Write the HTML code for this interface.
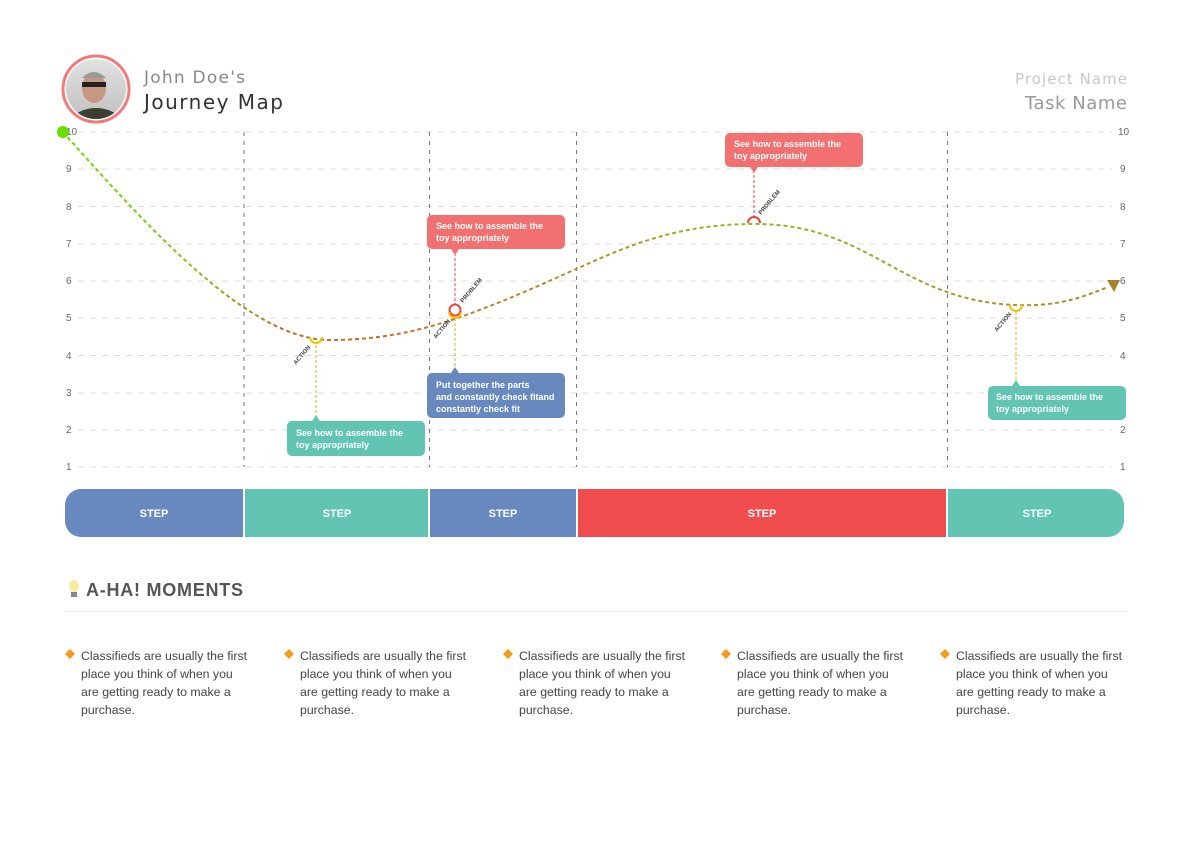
<!DOCTYPE html>
<html><head><meta charset="utf-8"><style>
html,body{margin:0;padding:0;background:#fff;}
svg{display:block;font-family:"Liberation Sans",sans-serif;}
</style></head><body>
<svg width="1191" height="842" viewBox="0 0 1191 842" xmlns="http://www.w3.org/2000/svg">
<defs>
<linearGradient id="g" gradientUnits="userSpaceOnUse" x1="63" y1="0" x2="1115" y2="0">
<stop offset="0" stop-color="#66dd00"/>
<stop offset="0.12" stop-color="#8cc01a"/>
<stop offset="0.22" stop-color="#c8682a"/>
<stop offset="0.38" stop-color="#c47a2a"/>
<stop offset="0.65" stop-color="#9cb52a"/>
<stop offset="1" stop-color="#b0882a"/>
</linearGradient>
<clipPath id="av"><circle cx="96" cy="89" r="30"/></clipPath>
<linearGradient id="bg" x1="0" y1="0" x2="0" y2="1"><stop offset="0" stop-color="#e4e4e4"/><stop offset="1" stop-color="#bdbdbd"/></linearGradient>
</defs>
<!-- header -->
<circle cx="96" cy="89" r="33" fill="#fff" stroke="#f47a7a" stroke-width="3"/>
<g clip-path="url(#av)">
<rect x="60" y="55" width="72" height="70" fill="url(#bg)"/>
<ellipse cx="96" cy="122" rx="24" ry="14" fill="#3a3f30"/>
<ellipse cx="94" cy="88" rx="12" ry="15" fill="#c99880"/>
<rect x="82" y="82" width="24" height="5" fill="#222"/>
<path d="M82 78 Q94 66 106 78" fill="#9a9a9a"/>
</g>
<text x="144" y="83" font-size="17" fill="#888" font-family="DejaVu Sans, sans-serif" textLength="101">John Doe's</text>
<text x="144" y="109" font-size="20" fill="#333" font-family="DejaVu Sans, sans-serif" textLength="139">Journey Map</text>
<text x="1127" y="84" font-size="15" fill="#c8c8c8" text-anchor="end" font-family="DejaVu Sans, sans-serif" textLength="112">Project Name</text>
<text x="1127" y="109" font-size="18" fill="#999" text-anchor="end" font-family="DejaVu Sans, sans-serif" textLength="102">Task Name</text>
<!-- grid -->
<g stroke="#dcdcdc" stroke-dasharray="6,6" stroke-width="1">
<line x1="78" y1="132" x2="1112" y2="132"/><line x1="78" y1="169" x2="1112" y2="169"/>
<line x1="78" y1="206.5" x2="1112" y2="206.5"/><line x1="78" y1="244" x2="1112" y2="244"/>
<line x1="78" y1="281" x2="1112" y2="281"/><line x1="78" y1="318" x2="1112" y2="318"/>
<line x1="78" y1="355.5" x2="1112" y2="355.5"/><line x1="78" y1="393" x2="1112" y2="393"/>
<line x1="78" y1="430" x2="1112" y2="430"/><line x1="78" y1="467" x2="1112" y2="467"/>
</g>
<g font-size="10" fill="#666">
<text x="66" y="135">10</text><text x="66" y="172">9</text><text x="66" y="210">8</text><text x="66" y="247">7</text><text x="66" y="284">6</text><text x="66" y="321">5</text><text x="66" y="359">4</text><text x="66" y="396">3</text><text x="66" y="433">2</text><text x="66" y="470">1</text>
<text x="1118" y="135">10</text><text x="1120" y="172">9</text><text x="1120" y="210">8</text><text x="1120" y="247">7</text><text x="1120" y="284">6</text><text x="1120" y="321">5</text><text x="1120" y="359">4</text><text x="1120" y="396">3</text><text x="1120" y="433">2</text><text x="1120" y="470">1</text>
</g>
<g stroke="#777" stroke-dasharray="4,5" stroke-width="1">
<line x1="244" y1="132" x2="244" y2="467"/><line x1="429.5" y1="132" x2="429.5" y2="467"/>
<line x1="576.5" y1="132" x2="576.5" y2="467"/><line x1="947.5" y1="132" x2="947.5" y2="467"/>
</g>
<!-- connector lines -->
<line x1="316" y1="345" x2="316" y2="416" stroke="#d4b020" stroke-dasharray="3,2"/>
<line x1="455" y1="253" x2="455" y2="305" stroke="#ee4444" stroke-dasharray="3,2"/>
<line x1="455" y1="318" x2="455" y2="368" stroke="#d4b020" stroke-dasharray="3,2"/>
<line x1="754" y1="170" x2="754" y2="218" stroke="#ee4444" stroke-dasharray="3,2"/>
<line x1="1016" y1="312" x2="1016" y2="381" stroke="#e0b800" stroke-dasharray="3,2"/>
<!-- curve -->
<path d="M63,132 C150,230 250,340 330,340 C400,340 450,322 500,302 C600,262 650,224 755,224 C870,224 900,300 1015,305 C1060,307 1085,296 1108,287" fill="none" stroke="url(#g)" stroke-width="2" stroke-dasharray="4,3"/>
<polygon points="1107,280 1120,280 1114,292" fill="#a8822a"/>
<circle cx="63" cy="132" r="6" fill="#66e000"/>
<!-- markers -->
<path d="M310,337 A6,6 0 0 0 322,337" fill="none" stroke="#e8c800" stroke-width="2"/>
<circle cx="455" cy="310" r="5.5" fill="none" stroke="#ee4444" stroke-width="2"/>
<path d="M449,312 A6,6 0 0 0 461,312" fill="none" stroke="#e8c800" stroke-width="2"/>
<path d="M748,223 A6,6 0 0 1 760,223" fill="none" stroke="#ee4444" stroke-width="2"/>
<path d="M1010,305 A6,6 0 0 0 1022,305" fill="none" stroke="#e8c800" stroke-width="2"/>
<g font-size="6" font-weight="bold" fill="#444">
<text transform="translate(296,365) rotate(-50)">ACTION</text>
<text transform="translate(436,339) rotate(-50)">ACTION</text>
<text transform="translate(463,303) rotate(-50)">PROBLEM</text>
<text transform="translate(761,215) rotate(-50)">PROBLEM</text>
<text transform="translate(997,332) rotate(-50)">ACTION</text>
</g>
<!-- callouts -->
<g font-size="9" font-weight="bold" fill="#fff">
<rect x="287" y="421" width="138" height="35" rx="5" fill="#62c5b3"/><polygon points="312,421 320,421 316,415" fill="#62c5b3"/>
<text x="296" y="436">See how to assemble the</text><text x="296" y="448">toy appropriately</text>
<rect x="427" y="215" width="138" height="34" rx="5" fill="#f37070"/><polygon points="451,249 459,249 455,255" fill="#f37070"/>
<text x="436" y="229">See how to assemble the</text><text x="436" y="241">toy appropriately</text>
<rect x="427" y="373" width="138" height="45" rx="5" fill="#6889bf"/><polygon points="451,373 459,373 455,367" fill="#6889bf"/>
<text x="436" y="388">Put together the parts</text><text x="436" y="400">and constantly check fitand</text><text x="436" y="412">constantly check fit</text>
<rect x="725" y="133" width="138" height="34" rx="5" fill="#f37070"/><polygon points="750,167 758,167 754,173" fill="#f37070"/>
<text x="734" y="147">See how to assemble the</text><text x="734" y="159">toy appropriately</text>
<rect x="988" y="386" width="138" height="34" rx="5" fill="#62c5b3"/><polygon points="1012,386 1020,386 1016,380" fill="#62c5b3"/>
<text x="996" y="400">See how to assemble the</text><text x="996" y="412">toy appropriately</text>
</g>
<!-- steps -->
<path d="M81,489 H243 V537 H81 A16,16 0 0 1 65,521 V505 A16,16 0 0 1 81,489 Z" fill="#6889bf"/>
<rect x="245" y="489" width="183" height="48" fill="#62c5b3"/>
<rect x="430" y="489" width="146" height="48" fill="#6889bf"/>
<rect x="578" y="489" width="368" height="48" fill="#ef4d4d"/>
<path d="M948,489 H1108 A16,16 0 0 1 1124,505 V521 A16,16 0 0 1 1108,537 H948 Z" fill="#62c5b3"/>
<g font-size="11" font-weight="bold" fill="#fff" text-anchor="middle">
<text x="154" y="517">STEP</text><text x="337" y="517">STEP</text><text x="503" y="517">STEP</text><text x="762" y="517">STEP</text><text x="1037" y="517">STEP</text>
</g>
<!-- a-ha -->
<ellipse cx="74" cy="586" rx="5" ry="6" fill="#fbe9a0"/><rect x="71" y="592" width="6" height="5" fill="#888"/>
<text x="86" y="596" font-size="18" font-weight="bold" fill="#555" textLength="157">A-HA! MOMENTS</text>
<line x1="65" y1="611.5" x2="1128" y2="611.5" stroke="#eee"/>
<g font-size="12.3" fill="#444">
<g transform="translate(0,0)"><polygon points="70,649 75,654 70,659 65,654" fill="#f89a1c"/><text x="81" y="660">Classifieds are usually the first</text><text x="81" y="678">place you think of when you</text><text x="81" y="696">are getting ready to make a</text><text x="81" y="714">purchase.</text></g>
<g transform="translate(219,0)"><polygon points="70,649 75,654 70,659 65,654" fill="#f89a1c"/><text x="81" y="660">Classifieds are usually the first</text><text x="81" y="678">place you think of when you</text><text x="81" y="696">are getting ready to make a</text><text x="81" y="714">purchase.</text></g>
<g transform="translate(438,0)"><polygon points="70,649 75,654 70,659 65,654" fill="#f89a1c"/><text x="81" y="660">Classifieds are usually the first</text><text x="81" y="678">place you think of when you</text><text x="81" y="696">are getting ready to make a</text><text x="81" y="714">purchase.</text></g>
<g transform="translate(656,0)"><polygon points="70,649 75,654 70,659 65,654" fill="#f89a1c"/><text x="81" y="660">Classifieds are usually the first</text><text x="81" y="678">place you think of when you</text><text x="81" y="696">are getting ready to make a</text><text x="81" y="714">purchase.</text></g>
<g transform="translate(875,0)"><polygon points="70,649 75,654 70,659 65,654" fill="#f89a1c"/><text x="81" y="660">Classifieds are usually the first</text><text x="81" y="678">place you think of when you</text><text x="81" y="696">are getting ready to make a</text><text x="81" y="714">purchase.</text></g>
</g>
</svg>
</body></html>
